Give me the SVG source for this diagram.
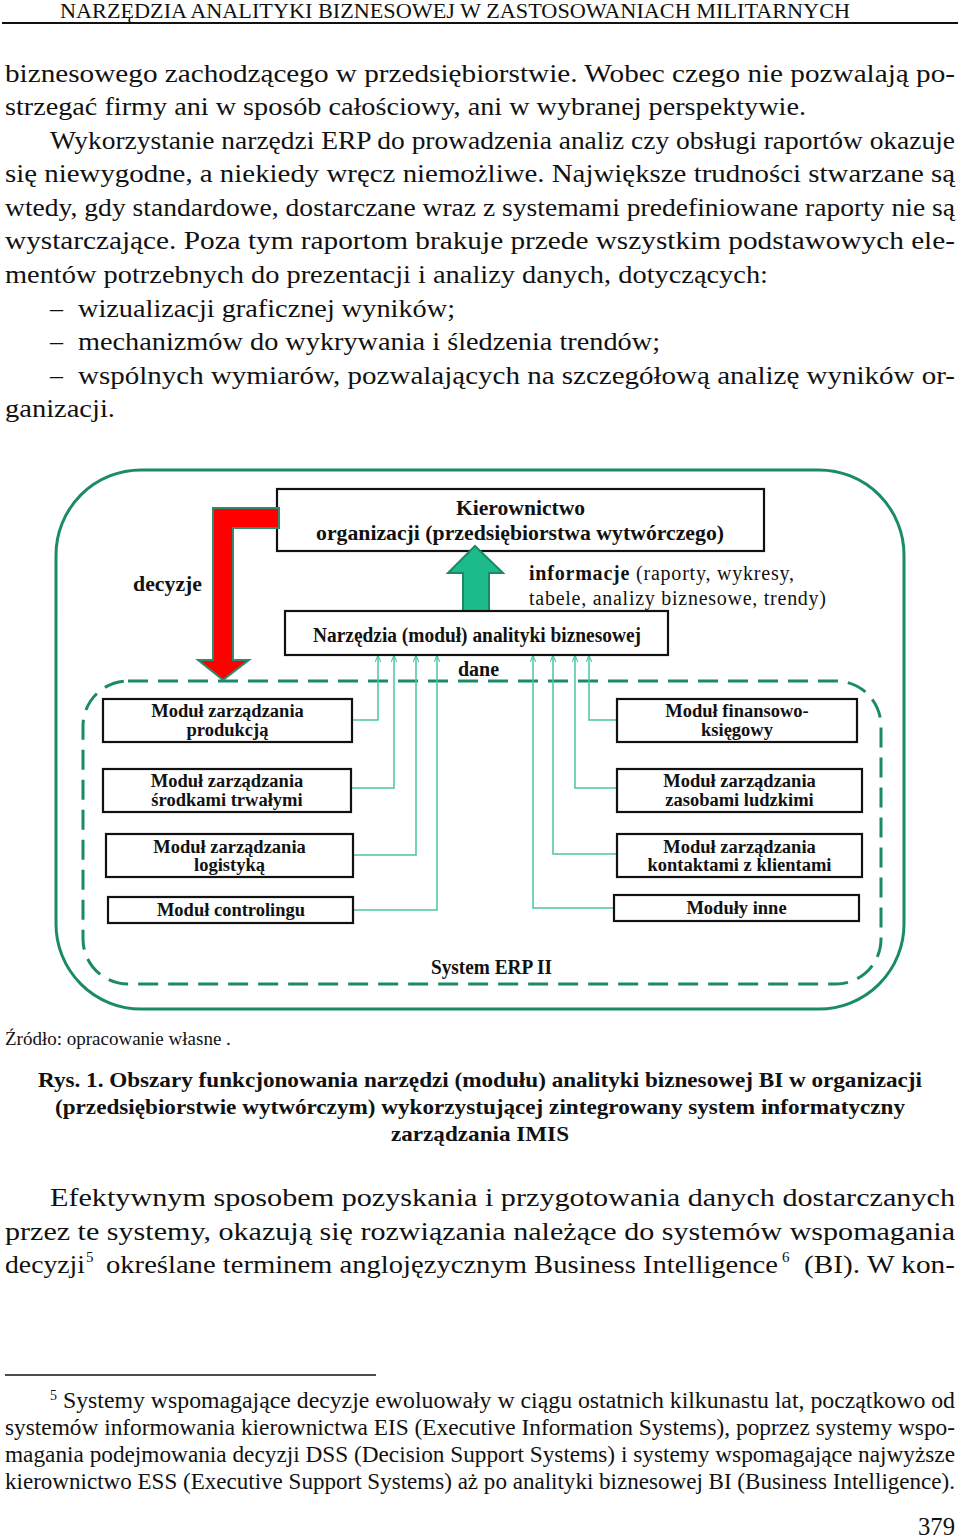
<svg xmlns="http://www.w3.org/2000/svg" width="960" height="1539" viewBox="0 0 960 1539">
<style>
text{font-family:"Liberation Serif","Times New Roman",serif;fill:#111}
.body{font-size:26px}
.hdr{font-size:20px}
.fn{font-size:23px}
.cap{font-size:21px;font-weight:bold}
.b{font-weight:bold}
.box{fill:#fff;stroke:#111;stroke-width:2.2}
.mod{font-size:18.5px;font-weight:bold;text-anchor:middle}
.lbl{font-size:20px;font-weight:bold}
.conn{fill:none;stroke:#4cc3a5;stroke-width:1.5;marker-end:url(#ah)}
</style>
<defs>
<marker id="ah" viewBox="0 0 10 10" refX="10" refY="5" markerWidth="7" markerHeight="7" markerUnits="userSpaceOnUse" orient="auto">
<path d="M0,1 L10,5 L0,9" fill="none" stroke="#4cc3a5" stroke-width="1.5"/>
</marker>
</defs>
<rect width="960" height="1539" fill="#fff"/>

<!-- header -->
<text class="hdr" x="60" y="18" textLength="790" lengthAdjust="spacingAndGlyphs">NARZĘDZIA ANALITYKI BIZNESOWEJ W ZASTOSOWANIACH MILITARNYCH</text>
<line x1="2" y1="23" x2="958" y2="23" stroke="#111" stroke-width="2"/>

<!-- body text -->
<g class="body">
<text x="5" y="82" textLength="950" lengthAdjust="spacingAndGlyphs">biznesowego zachodzącego w przedsiębiorstwie. Wobec czego nie pozwalają po-</text>
<text x="5" y="115" textLength="801" lengthAdjust="spacingAndGlyphs">strzegać firmy ani w sposób całościowy, ani w wybranej perspektywie.</text>
<text x="50" y="149" textLength="905" lengthAdjust="spacingAndGlyphs">Wykorzystanie narzędzi ERP do prowadzenia analiz czy obsługi raportów okazuje</text>
<text x="5" y="182" textLength="950" lengthAdjust="spacingAndGlyphs">się niewygodne, a niekiedy wręcz niemożliwe. Największe trudności stwarzane są</text>
<text x="5" y="216" textLength="950" lengthAdjust="spacingAndGlyphs">wtedy, gdy standardowe, dostarczane wraz z systemami predefiniowane raporty nie są</text>
<text x="5" y="249" textLength="950" lengthAdjust="spacingAndGlyphs">wystarczające. Poza tym raportom brakuje przede wszystkim podstawowych ele-</text>
<text x="5" y="283" textLength="763" lengthAdjust="spacingAndGlyphs">mentów potrzebnych do prezentacji i analizy danych, dotyczących:</text>
<text x="50" y="317">–</text>
<text x="78" y="317" textLength="377" lengthAdjust="spacingAndGlyphs">wizualizacji graficznej wyników;</text>
<text x="50" y="350">–</text>
<text x="78" y="350" textLength="582" lengthAdjust="spacingAndGlyphs">mechanizmów do wykrywania i śledzenia trendów;</text>
<text x="50" y="384">–</text>
<text x="78" y="384" textLength="877" lengthAdjust="spacingAndGlyphs">wspólnych wymiarów, pozwalających na szczegółową analizę wyników or-</text>
<text x="5" y="417" textLength="110" lengthAdjust="spacingAndGlyphs">ganizacji.</text>
</g>

<!-- diagram containers -->
<g id="outer">
<rect x="56" y="470" width="848" height="539" rx="85" ry="85" fill="none" stroke="#1b8a6b" stroke-width="3"/>
</g>
<g id="erp">
<rect x="83" y="681" width="798" height="303" rx="45" ry="45" fill="none" stroke="#1b8a6b" stroke-width="3" stroke-dasharray="20 10"/>
<text class="lbl" x="431" y="974" font-size="19" textLength="121" lengthAdjust="spacingAndGlyphs">System ERP II</text>
</g>

<!-- connectors -->
<g id="connectors">
<path class="conn" d="M352,720 H378 V655"/>
<path class="conn" d="M351,788 H394 V655"/>
<path class="conn" d="M353,855 H416 V655"/>
<path class="conn" d="M353,910 H437 V655"/>
<path class="conn" d="M617,720 H589 V655"/>
<path class="conn" d="M617,788 H575 V655"/>
<path class="conn" d="M617,854 H553 V655"/>
<path class="conn" d="M614,908 H533 V655"/>
<text class="lbl" x="458" y="676" font-size="19">dane</text>
</g>

<!-- management -->
<g id="kierownictwo">
<rect class="box" x="277" y="489" width="487" height="62"/>
<text class="lbl" x="456" y="515" textLength="129" lengthAdjust="spacingAndGlyphs">Kierownictwo</text>
<text class="lbl" x="316" y="540" textLength="408" lengthAdjust="spacingAndGlyphs">organizacji (przedsiębiorstwa wytwórczego)</text>
</g>

<!-- decisions arrow -->
<g id="decyzje">
<path d="M279,508 H213 V660 H198 L223,680 L249,660 H233 V528 H279 Z" fill="#ff0000" stroke="#2e8b6e" stroke-width="2"/>
<text class="lbl" x="133" y="591" textLength="69" lengthAdjust="spacingAndGlyphs">decyzje</text>
</g>

<!-- information arrow -->
<g id="informacje">
<path d="M475,546 L503,573 H489 V611 H463 V573 H448 Z" fill="#1dbb8c" stroke="#178a68" stroke-width="2"/>
<text x="529" y="580" font-size="20" textLength="265" lengthAdjust="spacing"><tspan font-weight="bold">informacje</tspan> (raporty, wykresy,</text>
<text x="529" y="605" font-size="20" textLength="297" lengthAdjust="spacing">tabele, analizy biznesowe, trendy)</text>
</g>

<g id="narzedzia">
<rect class="box" x="285" y="611" width="383" height="44"/>
<text class="lbl" x="313" y="642" font-size="19" textLength="328" lengthAdjust="spacingAndGlyphs">Narzędzia (moduł) analityki biznesowej</text>
</g>

<!-- left modules -->
<g id="mod-produkcja">
<rect class="box" x="103" y="699" width="249" height="43"/>
<text class="mod" x="227.5" y="717">Moduł zarządzania</text>
<text class="mod" x="227.5" y="736">produkcją</text>
</g>
<g id="mod-srodki">
<rect class="box" x="103" y="769" width="248" height="43"/>
<text class="mod" x="227" y="787">Moduł zarządzania</text>
<text class="mod" x="227" y="806">środkami trwałymi</text>
</g>
<g id="mod-logistyka">
<rect class="box" x="106" y="834" width="247" height="43"/>
<text class="mod" x="229.5" y="853">Moduł zarządzania</text>
<text class="mod" x="229.5" y="871">logistyką</text>
</g>
<g id="mod-controling">
<rect class="box" x="108" y="897" width="245" height="26"/>
<text class="mod" x="231" y="916">Moduł controlingu</text>
</g>

<!-- right modules -->
<g id="mod-finanse">
<rect class="box" x="617" y="699" width="240" height="43"/>
<text class="mod" x="737" y="717">Moduł finansowo-</text>
<text class="mod" x="737" y="736">księgowy</text>
</g>
<g id="mod-zasoby">
<rect class="box" x="617" y="769" width="245" height="43"/>
<text class="mod" x="739.5" y="787">Moduł zarządzania</text>
<text class="mod" x="739.5" y="806">zasobami ludzkimi</text>
</g>
<g id="mod-kontakty">
<rect class="box" x="617" y="834" width="245" height="43"/>
<text class="mod" x="739.5" y="853">Moduł zarządzania</text>
<text class="mod" x="739.5" y="871">kontaktami z klientami</text>
</g>
<g id="mod-inne">
<rect class="box" x="614" y="895" width="245" height="26"/>
<text class="mod" x="736.5" y="914">Moduły inne</text>
</g>

<!-- caption -->
<text x="5" y="1045" font-size="19">Źródło: opracowanie własne .</text>
<text class="cap" x="38" y="1087" textLength="884" lengthAdjust="spacingAndGlyphs">Rys. 1. Obszary funkcjonowania narzędzi (modułu) analityki biznesowej BI w organizacji</text>
<text class="cap" x="55" y="1114" textLength="850" lengthAdjust="spacingAndGlyphs">(przedsiębiorstwie wytwórczym) wykorzystującej zintegrowany system informatyczny</text>
<text class="cap" x="391" y="1141" textLength="178" lengthAdjust="spacingAndGlyphs">zarządzania IMIS</text>

<!-- following paragraph -->
<g class="body">
<text x="50" y="1206" textLength="905" lengthAdjust="spacingAndGlyphs">Efektywnym sposobem pozyskania i przygotowania danych dostarczanych</text>
<text x="5" y="1240" textLength="950" lengthAdjust="spacingAndGlyphs">przez te systemy, okazują się rozwiązania należące do systemów wspomagania</text>
<text x="5" y="1273" textLength="80" lengthAdjust="spacingAndGlyphs">decyzji</text>
<text x="86" y="1262" font-size="15">5</text>
<text x="106" y="1273" textLength="672" lengthAdjust="spacingAndGlyphs">określane terminem anglojęzycznym Business Intelligence</text>
<text x="782" y="1262" font-size="15">6</text>
<text x="804" y="1273" textLength="151" lengthAdjust="spacingAndGlyphs">(BI). W kon-</text>
</g>

<!-- footnote -->
<line x1="5" y1="1375" x2="376" y2="1375" stroke="#111" stroke-width="1.5"/>
<g class="fn">
<text x="50" y="1400" font-size="14">5</text>
<text x="63" y="1408" textLength="892" lengthAdjust="spacingAndGlyphs">Systemy wspomagające decyzje ewoluowały w ciągu ostatnich kilkunastu lat, początkowo od</text>
<text x="5" y="1435" textLength="950" lengthAdjust="spacingAndGlyphs">systemów informowania kierownictwa EIS (Executive Information Systems), poprzez systemy wspo-</text>
<text x="5" y="1462" textLength="950" lengthAdjust="spacingAndGlyphs">magania podejmowania decyzji DSS (Decision Support Systems) i systemy wspomagające najwyższe</text>
<text x="5" y="1489" textLength="950" lengthAdjust="spacingAndGlyphs">kierownictwo ESS (Executive Support Systems) aż po analityki biznesowej BI (Business Intelligence).</text>
</g>
<text x="918" y="1535" font-size="25" textLength="37" lengthAdjust="spacingAndGlyphs">379</text>
</svg>
